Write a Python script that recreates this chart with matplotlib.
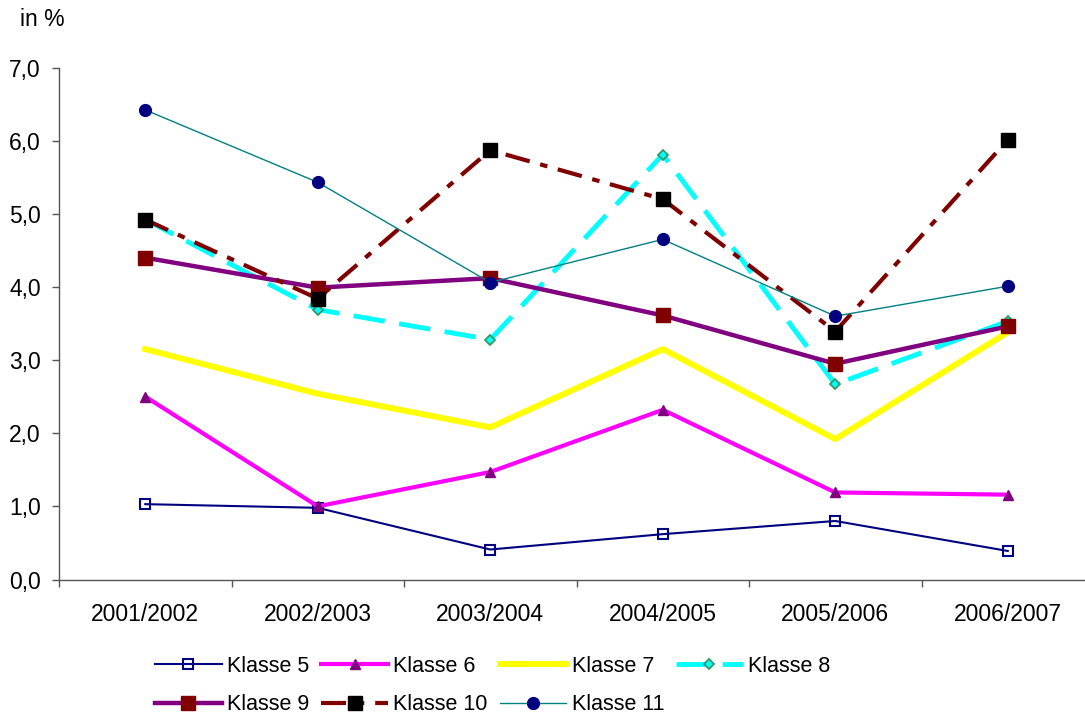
import numpy as np
import matplotlib
matplotlib.use("Agg")
import matplotlib.pyplot as plt
from matplotlib.ticker import FuncFormatter

plt.rcParams['font.family'] = ['Liberation Sans', 'DejaVu Sans']

years = ["2001/2002", "2002/2003", "2003/2004", "2004/2005", "2005/2006", "2006/2007"]

klasse_5 = [1.03, 0.98, 0.41, 0.62, 0.80, 0.39]
klasse_6 = [2.50, 1.00, 1.47, 2.32, 1.19, 1.16]
klasse_7 = [3.15, 2.54, 2.08, 3.15, 1.92, 3.38]
klasse_8 = [4.92, 3.69, 3.28, 5.81, 2.67, 3.53]
klasse_9 = [4.40, 3.99, 4.12, 3.61, 2.95, 3.46]
klasse_10 = [4.92, 3.84, 5.87, 5.20, 3.39, 6.01]
klasse_11 = [6.42, 5.43, 4.06, 4.65, 3.60, 4.01]

fig = plt.figure(figsize=(10.85, 7.17), dpi=100)
# axis runs past the right edge, like in the original
ax = fig.add_axes([59 / 1085, 137.5 / 717, 1035 / 1085, 512 / 717])

x = np.arange(len(years))

l5, = ax.plot(x, klasse_5, color="#000080", lw=1.5, marker="s", ms=7.5,
              mfc="none", mec="#000080", mew=1.5, label="Klasse 5")
l6, = ax.plot(x, klasse_6, color="#FF00FF", lw=3, marker="^", ms=7.5,
              mfc="#800080", mec="#800080", label="Klasse 6")
l7, = ax.plot(x, klasse_7, color="#FFFF00", lw=4.3, label="Klasse 7")
l8, = ax.plot(x, klasse_8, color="#00FFFF", lw=3.5, ls=(0, (6.5, 3)),
              marker="D", ms=5, mfc="#00FFFF", mec="#339966", mew=1.3, label="Klasse 8")
l9, = ax.plot(x, klasse_9, color="#800080", lw=3.2, marker="s", ms=9.5,
              mfc="#800000", mec="#800000", label="Klasse 9")
l10, = ax.plot(x, klasse_10, color="#800000", lw=3, ls=(0, (6, 2.6, 1.8, 2.6)),
               marker="s", ms=9.5, mfc="black", mec="black", label="Klasse 10")
l11, = ax.plot(x, klasse_11, color="#008080", lw=1, marker="o", ms=8.5,
               mfc="#000080", mec="#000080", label="Klasse 11")

ax.set_xlim(-0.5, len(years) - 0.5)
ax.set_ylim(0, 7)
ax.set_yticks(np.arange(0, 7.1, 1))
ax.yaxis.set_major_formatter(FuncFormatter(lambda v, p: f"{v:.1f}".replace(".", ",")))

ax.set_xticks(x)
ax.set_xticklabels(years)
ax.set_xticks(np.arange(-0.5, len(years), 1), minor=True)
ax.tick_params(axis="x", which="major", length=0, pad=17, labelsize=16.5)
ax.tick_params(axis="x", which="minor", length=5, width=1, color="#555555", direction="out")
ax.tick_params(axis="y", length=5, width=1, color="#555555", pad=8, labelsize=16.5)

for s in ["top", "right"]:
    ax.spines[s].set_visible(False)
for s in ["left", "bottom"]:
    ax.spines[s].set_color("#555555")
    ax.spines[s].set_linewidth(1)

fig.text(20 / 1085, 1 - 20 / 717, "in %", fontsize=16.5, va="center", ha="left")

# excel fills the legend row by row
handles = [l5, l9, l6, l10, l7, l11, l8]
fig.legend(handles, [h.get_label() for h in handles], ncol=4, frameon=False,
           loc="upper left", bbox_to_anchor=(155 / 1085, 1 - 656 / 717),
           fontsize=15.5, handlelength=3.1, handletextpad=0.25,
           columnspacing=0.55, labelspacing=0.8, borderpad=0, borderaxespad=0)

fig.savefig("out.png", dpi=100)
